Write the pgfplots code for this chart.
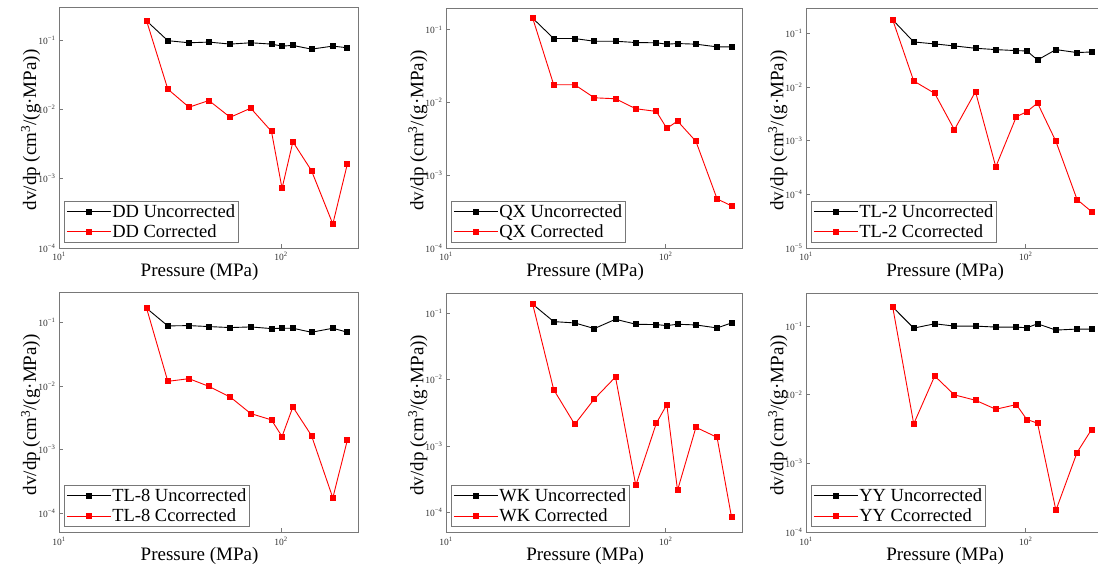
\documentclass[border=0pt]{standalone}
\usepackage{fontspec}
\setmainfont{Liberation Serif}
\usepackage{pgfplots}
\usepackage{pgfplotstable}
\pgfplotsset{compat=1.18}
\definecolor{axgray}{RGB}{120,120,120}

\pgfplotstableread{
p unc cor
24.8 0.189 0.189
30.9 0.098 0.0196
38.5 0.0914 0.01074
47.3 0.0935 0.01343
59 0.0875 0.00769
73 0.0914 0.0104
90.5 0.0875 0.00482
101 0.0818 0.000724
113 0.0837 0.00341
137 0.0740 0.00131
171 0.0818 0.000222
199 0.0774 0.00165
}\tDD
\pgfplotstableread{
p unc cor
24.8 0.1446 0.1446
30.9 0.0760 0.01758
38.5 0.0760 0.01758
47.3 0.0698 0.01164
59 0.0698 0.01129
73 0.0670 0.00823
90.5 0.0664 0.00756
101 0.0636 0.00442
113 0.0649 0.00557
137 0.0636 0.00293
171 0.0584 0.000474
199 0.0584 0.000379
}\tQX
\pgfplotstableread{
p unc cor
24.8 0.180 0.180
30.9 0.0698 0.01303
38.5 0.0641 0.00767
47.3 0.0588 0.00161
59 0.0532 0.00824
73 0.0502 0.000327
90.5 0.0481 0.00281
101 0.0474 0.00349
113 0.0322 0.00506
137 0.0502 0.000973
171 0.0442 0.0000800
199 0.0454 0.0000478
}\tTLtwo
\pgfplotstableread{
p unc cor
24.8 0.168 0.168
30.9 0.0887 0.01189
38.5 0.0897 0.01309
47.3 0.0866 0.00992
59 0.0835 0.00675
73 0.0855 0.00370
90.5 0.0805 0.00294
101 0.0815 0.00161
113 0.0815 0.00470
137 0.0705 0.00167
171 0.0815 0.000174
199 0.0705 0.00143
}\tTLeight
\pgfplotstableread{
p unc cor
24.8 0.1367 0.1367
30.9 0.0749 0.00706
38.5 0.0715 0.00212
47.3 0.0588 0.00512
59 0.0812 0.01096
73 0.0683 0.000255
90.5 0.0675 0.00220
101 0.0652 0.00420
113 0.0683 0.000215
137 0.0667 0.00191
171 0.0601 0.00135
199 0.0715 0.0000841
}\tWK
\pgfplotstableread{
p unc cor
24.8 0.189 0.189
30.9 0.0935 0.00378
38.5 0.108 0.0188
47.3 0.100 0.00998
59 0.100 0.00834
73 0.0967 0.00617
90.5 0.0967 0.00721
101 0.0946 0.00438
113 0.108 0.00387
137 0.0875 0.000209
171 0.0905 0.00145
199 0.0905 0.00313
}\tYY

\pgfplotsset{
  legend image code/.code={\draw[mark repeat=2,mark phase=2,#1] plot coordinates {(0pt,0pt) (22pt,0pt) (44pt,0pt)};},
  mypanel/.style={
    scale only axis,
    anchor=south west,
    xmin=10, xmax=222,
    axis line style={axgray, line width=0.9pt},
    tick align=inside,
    major tick length=4pt,
    minor tick length=0pt,
    tick style={axgray, line width=0.8pt},
    xtick pos=bottom, ytick pos=left,
    xtick={10,100},
    xticklabels={10\textsuperscript{1},10\textsuperscript{2}},
    ytick={1e-5,1e-4,1e-3,1e-2,1e-1},
    yticklabels={10\textsuperscript{−5},10\textsuperscript{−4},10\textsuperscript{−3},10\textsuperscript{−2},10\textsuperscript{−1}},
    ticklabel style={font=\fontsize{9.5}{10}\selectfont, text=black!80},
    xticklabel style={yshift=-1pt},
    xlabel={Pressure (MPa)},
    ylabel={dv/dp (cm\textsuperscript{3}/(g·MPa))},
    x label style={at={(axis description cs:0.47,-0.062)}, anchor=north, inner sep=0pt, font=\fontsize{19}{22}\selectfont},
    y label style={at={(axis description cs:-0.062,0.49)}, anchor=south, inner sep=0pt, font=\fontsize{19}{22}\selectfont},
    legend cell align=left,
    legend style={at={(0,0)}, anchor=south west, xshift=5pt, yshift=5pt,
      draw=axgray, line width=0.8pt, inner xsep=2pt, inner ysep=2.5pt,
      font=\fontsize{18.5}{20}\selectfont, row sep=4pt, nodes={inner sep=1pt}},
  },
  unc/.style={black, line width=0.9pt, mark=square*, mark size=2.5pt, mark options={solid}},
  cor/.style={red, line width=0.9pt, mark=square*, mark size=2.5pt, mark options={solid, fill=red}},
}

\begin{document}
\begin{tikzpicture}
\useasboundingbox (0pt,0pt) rectangle (1098pt,569pt);

% Row 1
\begin{loglogaxis}[mypanel, at={(59pt,321pt)}, width=299pt, height=241pt, ymin=1e-4, ymax=0.3]
\addplot[unc] table[x=p,y=unc] {\tDD};
\addplot[cor] table[x=p,y=cor] {\tDD};
\legend{DD Uncorrected, DD Corrected}
\end{loglogaxis}

\begin{loglogaxis}[mypanel, at={(446pt,321pt)}, width=296pt, height=240pt, ymin=1e-4, ymax=0.2]
\addplot[unc] table[x=p,y=unc] {\tQX};
\addplot[cor] table[x=p,y=cor] {\tQX};
\legend{QX Uncorrected, QX Corrected}
\end{loglogaxis}

\begin{loglogaxis}[mypanel, at={(806pt,321pt)}, width=296pt, height=240pt, ymin=1e-5, ymax=0.3]
\addplot[unc] table[x=p,y=unc] {\tTLtwo};
\addplot[cor] table[x=p,y=cor] {\tTLtwo};
\legend{TL-2 Uncorrected, TL-2 Ccorrected}
\end{loglogaxis}

% Row 2
\begin{loglogaxis}[mypanel, at={(59pt,36.7pt)}, width=299pt, height=240pt, ymin=5e-5, ymax=0.3]
\addplot[unc] table[x=p,y=unc] {\tTLeight};
\addplot[cor] table[x=p,y=cor] {\tTLeight};
\legend{TL-8 Uncorrected, TL-8 Ccorrected}
\end{loglogaxis}

\begin{loglogaxis}[mypanel, at={(446pt,36.7pt)}, width=296pt, height=239pt, ymin=5e-5, ymax=0.2]
\addplot[unc] table[x=p,y=unc] {\tWK};
\addplot[cor] table[x=p,y=cor] {\tWK};
\legend{WK Uncorrected, WK Corrected}
\end{loglogaxis}

\begin{loglogaxis}[mypanel, at={(806pt,36.7pt)}, width=296pt, height=239pt, ymin=1e-4, ymax=0.3]
\addplot[unc] table[x=p,y=unc] {\tYY};
\addplot[cor] table[x=p,y=cor] {\tYY};
\legend{YY Uncorrected, YY Ccorrected}
\end{loglogaxis}
\end{tikzpicture}
\end{document}
